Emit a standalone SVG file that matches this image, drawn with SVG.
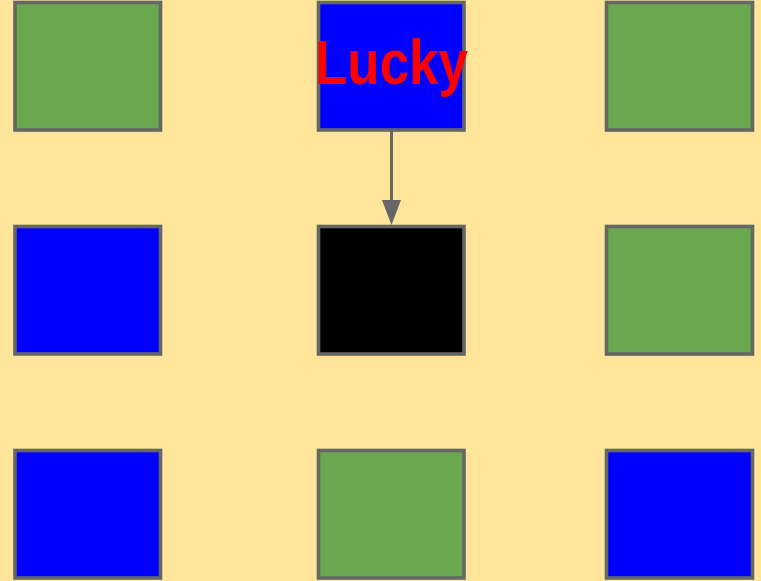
<svg xmlns="http://www.w3.org/2000/svg" width="761" height="581" viewBox="0 0 761 581">
  <style>
    .sq { stroke: #666666; stroke-width: 3.6; }
    .g { fill: #6aa84f; }
    .b { fill: #0000ff; }
    .k { fill: #000000; }
    .lbl { font-family: "Liberation Sans", Arial, sans-serif; font-weight: bold; fill: #ff0000; font-size: 63px; }
    .conn { stroke: #666666; stroke-width: 3; fill: none; }
  </style>
  <rect width="761" height="581" fill="#ffe599"/>
  <g id="n1"><rect class="sq g" x="15" y="2.5" width="145.5" height="127.5"/></g>
  <g id="n2"><rect class="sq b" x="318.5" y="2.5" width="145.5" height="127.5"/></g>
  <g id="n3"><rect class="sq g" x="606.5" y="2.5" width="146" height="127.5"/></g>
  <g id="n4"><rect class="sq b" x="15" y="226.5" width="145.5" height="127.5"/></g>
  <g id="n5"><rect class="sq k" x="318.5" y="226.5" width="145.5" height="127.5"/></g>
  <g id="n6"><rect class="sq g" x="606.5" y="226.5" width="146" height="127.5"/></g>
  <g id="n7"><rect class="sq b" x="15" y="450.5" width="145.5" height="127.5"/></g>
  <g id="n8"><rect class="sq g" x="318.5" y="450.5" width="145.5" height="127.5"/></g>
  <g id="n9"><rect class="sq b" x="606.5" y="450.5" width="146" height="127.5"/></g>
  <g id="connectors">
    <line class="conn" x1="391.5" y1="131" x2="391.5" y2="201"/>
    <path d="M382,200 L401,200 L391.5,225 Z" fill="#666666"/>
  </g>
  <g id="label">
    <text class="lbl" x="391.5" y="84" text-anchor="middle" textLength="153" lengthAdjust="spacingAndGlyphs">Lucky</text>
  </g>
</svg>
